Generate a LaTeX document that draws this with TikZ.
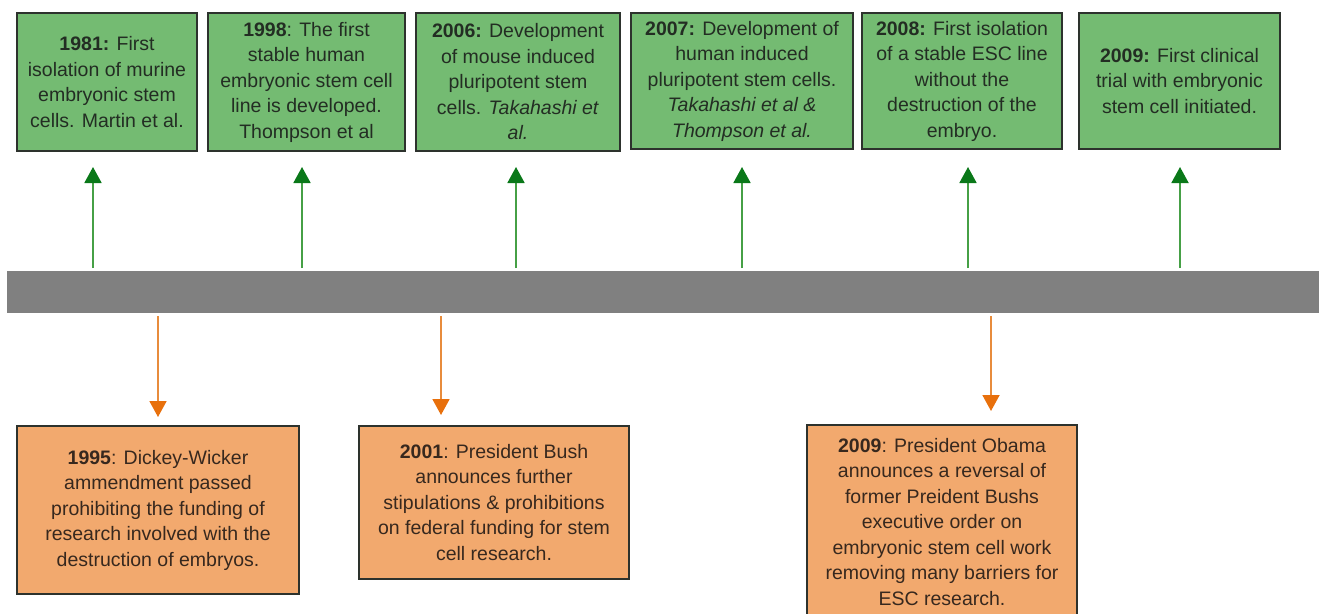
\documentclass[tikz,border=0pt]{standalone}
\usepackage{fontspec}
\setmainfont{Liberation Sans}
\usetikzlibrary{arrows.meta}
\definecolor{gfill}{RGB}{116,187,114}
\definecolor{ofill}{RGB}{242,169,110}
\definecolor{edge}{RGB}{45,50,45}
\definecolor{gtxt}{RGB}{35,45,35}
\definecolor{otxt}{RGB}{55,40,30}
\definecolor{gshaft}{RGB}{70,160,70}
\definecolor{gtip}{RGB}{10,120,25}
\definecolor{oshaft}{RGB}{232,140,60}
\definecolor{otip}{RGB}{232,112,12}
\definecolor{barc}{RGB}{128,128,128}
\tikzset{
  boxtext/.style={font=\fontsize{19.5}{25.5}\selectfont, align=center, inner sep=0pt},
  gbox/.style={boxtext, draw=edge, line width=1.6pt, fill=gfill, text=gtxt},
  obox/.style={boxtext, draw=edge, line width=1.6pt, fill=ofill, text=otxt},
  garrow/.style={draw=gshaft, line width=1.8pt, -{Triangle[width=17pt,length=16pt,color=gtip]}},
  oarrow/.style={draw=oshaft, line width=1.8pt, -{Triangle[width=17pt,length=16pt,color=otip]}},
}
\begin{document}
\begin{tikzpicture}[x=1pt,y=-1pt]
\useasboundingbox (0,0) rectangle (1319,613);
\clip (0,0) rectangle (1319,613);
% green boxes
\node[gbox, minimum width=180pt, minimum height=138pt] (g1) at (107,82)
  {\textbf{1981:} First\\isolation of murine\\embryonic stem\\cells. Martin et al.};
\node[gbox, minimum width=197pt, minimum height=138pt] (g2) at (306.5,82)
  {\textbf{1998}: The first\\stable human\\embryonic stem cell\\line is developed.\\Thompson et al};
\node[gbox, minimum width=204pt, minimum height=138pt] (g3) at (518,82)
  {\textbf{2006:} Development\\of mouse induced\\pluripotent stem\\cells. \textit{Takahashi et}\\\textit{al.}};
\node[gbox, minimum width=222pt, minimum height=136pt] (g4) at (742,81)
  {\textbf{2007:} Development of\\human induced\\pluripotent stem cells.\\\textit{Takahashi et al \&}\\\textit{Thompson et al.}};
\node[gbox, minimum width=200pt, minimum height=136pt] (g5) at (962,81)
  {\textbf{2008:} First isolation\\of a stable ESC line\\without the\\destruction of the\\embryo.};
\node[gbox, minimum width=201pt, minimum height=136pt] (g6) at (1179.5,81)
  {\textbf{2009:} First clinical\\trial with embryonic\\stem cell initiated.};
% timeline bar
\node[fill=barc, inner sep=0pt, minimum width=1312pt, minimum height=42pt] (bar) at (663,292) {};
% orange boxes
\node[obox, minimum width=282pt, minimum height=168pt] (o1) at (158,510)
  {\textbf{1995}: Dickey-Wicker\\ammendment passed\\prohibiting the funding of\\research involved with the\\destruction of embryos.};
\node[obox, minimum width=270pt, minimum height=153pt] (o2) at (494,502.5)
  {\textbf{2001}: President Bush\\announces further\\stipulations \& prohibitions\\on federal funding for stem\\cell research.};
\node[obox, minimum width=270pt, minimum height=194pt] (o3) at (942,522)
  {\textbf{2009}: President Obama\\announces a reversal of\\former Preident Bushs\\executive order on\\embryonic stem cell work\\removing many barriers for\\ESC research.};
% arrow end points
\coordinate (ga1) at (93,268);   \coordinate (gt1) at (93,167);
\coordinate (ga2) at (302,268);  \coordinate (gt2) at (302,167);
\coordinate (ga3) at (516,268);  \coordinate (gt3) at (516,167);
\coordinate (ga4) at (742,268);  \coordinate (gt4) at (742,167);
\coordinate (ga5) at (968,268);  \coordinate (gt5) at (968,167);
\coordinate (ga6) at (1180,268); \coordinate (gt6) at (1180,167);
\coordinate (oa1) at (158,316);  \coordinate (ot1) at (158,417);
\coordinate (oa2) at (441,316);  \coordinate (ot2) at (441,415);
\coordinate (oa3) at (991,316);  \coordinate (ot3) at (991,411);
\foreach \i in {1,...,6} {\draw[garrow] (ga\i) -- (gt\i);}
\foreach \i in {1,2,3} {\draw[oarrow] (oa\i) -- (ot\i);}
\end{tikzpicture}
\end{document}
